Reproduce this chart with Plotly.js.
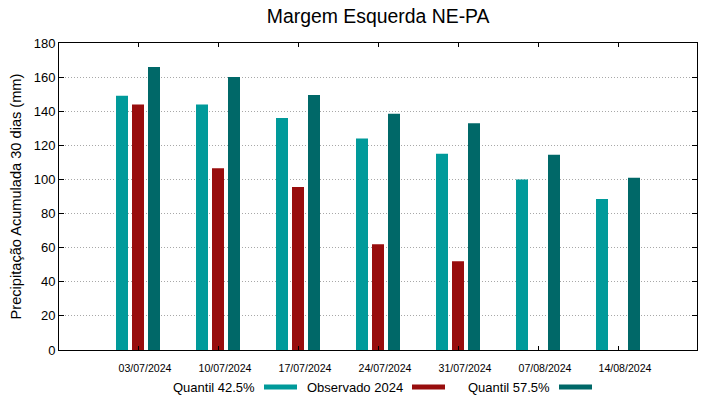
<!DOCTYPE html>
<html>
<head>
<meta charset="utf-8">
<script src="https://cdn.plot.ly/plotly-3.0.1.min.js"></script>
<style>html,body{margin:0;padding:0;background:#fff;}#chart{width:719px;height:399px;}</style>
</head>
<body>
<div id="chart"></div>
<script>
const categories = ["03/07/2024","10/07/2024","17/07/2024","24/07/2024","31/07/2024","07/08/2024","14/08/2024"];
const quantil425 = [149, 144, 136, 124, 115, 100, 88.5];
const observado2024 = [144, 106.5, 95.5, 62, 52, null, null];
const quantil575 = [166, 160, 149.5, 138.5, 133, 114.5, 101];
const seriesNames = ["Quantil 42.5%", "Observado 2024", "Quantil 57.5%"];
const colors = ["#009a9a", "#980d0d", "#006868"];
const yTicks = [0,20,40,60,80,100,120,140,160,180];

const xIdx = categories.map((c,i)=>i);
const allSeries = [quantil425, observado2024, quantil575];
const traces = allSeries.map((vals,k)=>({
  type:'bar', x:xIdx, y:vals, name:seriesNames[k],
  marker:{color:colors[k], line:{width:0}}, showlegend:false, hoverinfo:'y'
}));

const font = {family:'Liberation Sans, Arial, sans-serif', color:'#000'};
// legend drawn gnuplot-style: text then swatch
const legendX = [257, 405, 552];
const swatchW = 33;
const annotations = seriesNames.map((n,k)=>({
  xref:'paper', yref:'paper',
  x:(legendX[k]-59)/638, y:(350-387)/307, xanchor:'right', yanchor:'middle',
  text:n, showarrow:false, font:Object.assign({}, font, {size:13})
}));
const shapes = seriesNames.map((n,k)=>({
  type:'rect', xref:'paper', yref:'paper',
  x0:(legendX[k]+7-59)/638, x1:(legendX[k]+7+swatchW-59)/638,
  y0:(350-384.5)/307, y1:(350-389.5)/307,
  fillcolor:colors[k], line:{width:0}
}));

const layout = {
  width:719, height:399,
  margin:{l:59, r:22, t:43, b:49},
  paper_bgcolor:'#fff', plot_bgcolor:'#fff',
  font:font,
  title:{text:'Margem Esquerda NE-PA', font:Object.assign({}, font, {size:19.4}), x:0.526, xanchor:'center', y:0.96, yanchor:'middle'},
  barmode:'group', bargap:0.4, bargroupgap:0.25,
  xaxis:{
    type:'linear', range:[-0.9875, 6.9875],
    tickvals:xIdx, ticktext:categories, tickfont:Object.assign({}, font, {size:10.6}),
    ticks:'inside', ticklen:4, tickcolor:'#000', showgrid:false, zeroline:false,
    showline:true, linecolor:'#000', linewidth:1, mirror:'allticks', ticklabelshift:7,
    ticklabelstandoff:8
  },
  yaxis:{
    range:[0,180], tickvals:yTicks, tickfont:Object.assign({}, font, {size:13}),
    ticks:'inside', ticklen:5, tickcolor:'#000',
    showgrid:true, gridcolor:'#a8a8a8', griddash:'1px,2px', gridwidth:1, zeroline:false,
    showline:true, linecolor:'#000', linewidth:1, mirror:'allticks',
    title:{text:'Precipitação Acumulada 30 dias (mm)', font:Object.assign({}, font, {size:14.6}), standoff:8}
  },
  annotations:annotations,
  shapes:shapes
};
Plotly.newPlot('chart', traces, layout, {displayModeBar:false, staticPlot:true});
</script>
</body>
</html>
